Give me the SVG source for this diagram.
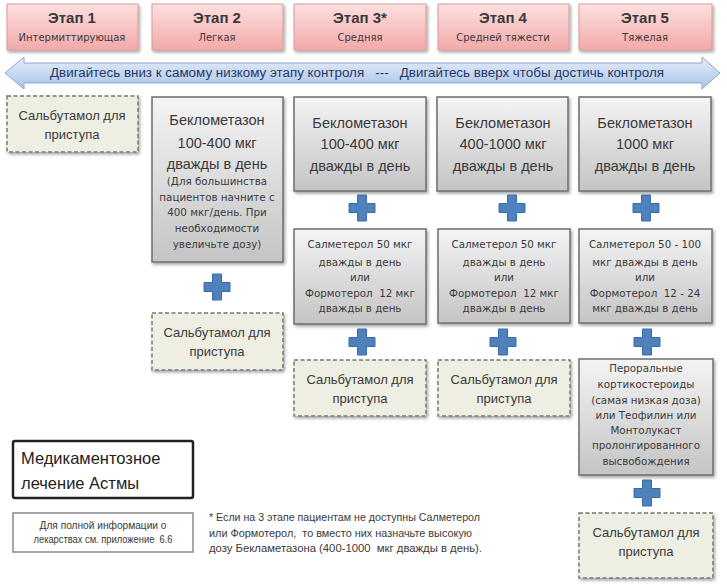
<svg xmlns="http://www.w3.org/2000/svg" width="727" height="585" viewBox="0 0 727 585">
<defs>
<linearGradient id="gPink" x1="0" y1="0" x2="0" y2="1"><stop offset="0" stop-color="#fde0e0"/><stop offset="1" stop-color="#f3a9a9"/></linearGradient>
<linearGradient id="gGray" x1="0" y1="0" x2="0" y2="1"><stop offset="0" stop-color="#f4f4f4"/><stop offset="1" stop-color="#c4c4c4"/></linearGradient>
<linearGradient id="gBlue" x1="0" y1="0" x2="0" y2="1"><stop offset="0" stop-color="#e6eefa"/><stop offset="1" stop-color="#a9c3e8"/></linearGradient>
<filter id="sh" x="-10%" y="-10%" width="125%" height="125%"><feDropShadow dx="1.5" dy="2" stdDeviation="1.5" flood-color="#000" flood-opacity="0.35"/></filter>
<path id="plus" d="M-4.5,-13 H4.5 V-4.5 H13 V4.5 H4.5 V13 H-4.5 V4.5 H-13 V-4.5 H-4.5 Z" fill="#4f81bd" stroke="#3a6aa3" stroke-width="1"/>
</defs>
<style>
text{font-family:"Liberation Sans",Arial,sans-serif;fill:#3a3a3a;text-anchor:middle;white-space:pre}
.hdr{fill:url(#gPink);stroke:#d99a9a;stroke-width:1;filter:url(#sh)}
.med{fill:url(#gGray);stroke:#6e6e6e;stroke-width:1.5;filter:url(#sh)}
.sal{fill:#efeee3;stroke:#777;stroke-width:1.5;stroke-dasharray:4 2.5;filter:url(#sh)}
.t1{font-size:15px;font-weight:bold}
.t2{font-family:"DejaVu Sans",sans-serif;font-size:10px}
.big{font-size:14.5px}
.sm{font-family:"DejaVu Sans",sans-serif;font-size:10.3px}
.sb{font-size:13px}
.ls{text-anchor:start}
</style>
<rect width="727" height="585" fill="#fff"/>
<g id="stage1-header"><rect class="hdr" x="7" y="4" width="131" height="46"/><text class="t1" x="72" y="23">Этап 1</text><text class="t2" x="72" y="41">Интермиттирующая</text></g>
<g id="stage2-header"><rect class="hdr" x="152" y="4" width="131" height="46"/><text class="t1" x="217" y="23">Этап 2</text><text class="t2" x="217" y="41">Легкая</text></g>
<g id="stage3-header"><rect class="hdr" x="294" y="4" width="132" height="46"/><text class="t1" x="360" y="23">Этап 3*</text><text class="t2" x="360" y="41">Средняя</text></g>
<g id="stage4-header"><rect class="hdr" x="438" y="4" width="131" height="46"/><text class="t1" x="503" y="23">Этап 4</text><text class="t2" x="503" y="41">Средней тяжести</text></g>
<g id="stage5-header"><rect class="hdr" x="579" y="4" width="133" height="46"/><text class="t1" x="645" y="23">Этап 5</text><text class="t2" x="645" y="41">Тяжелая</text></g>
<g id="connectors">
<path d="M5,73 L24,57 L24,63 L702,63 L702,57 L720,73 L702,89 L702,83 L24,83 L24,89 Z" fill="url(#gBlue)" stroke="#8aa7d4" stroke-width="1"/>
<text class="ls" x="50" y="77" font-size="12.5" textLength="614" lengthAdjust="spacingAndGlyphs" style="fill:#1f3864">Двигайтесь вниз к самому низкому этапу контроля   ---   Двигайтесь вверх чтобы достичь контроля</text>
</g>
<g id="stage1-salbutamol"><rect class="sal" x="7" y="96" width="131" height="56"/><text class="sb" x="72" y="120">Сальбутамол для</text><text class="sb" x="72" y="139">приступа</text></g>
<g id="stage2-beclomethasone"><rect class="med" x="152" y="97" width="131" height="165"/>
<text class="big" x="217" y="125">Беклометазон</text><text class="big" x="217" y="148">100-400 мкг</text><text class="big" x="217" y="169">дважды в день</text>
<text class="sm" x="217" y="185">(Для большинства</text><text class="sm" x="217" y="201">пациентов начните с</text><text class="sm" x="217" y="216">400 мкг/день. При</text><text class="sm" x="217" y="232">необходимости</text><text class="sm" x="217" y="248">увеличьте дозу)</text></g>
<g id="stage2-salbutamol"><rect class="sal" x="152" y="313" width="131" height="57"/><text class="sb" x="217" y="337">Сальбутамол для</text><text class="sb" x="217" y="356">приступа</text></g>
<g id="stage3-beclomethasone"><rect class="med" x="294" y="97" width="132" height="94"/><text class="big" x="360" y="128">Беклометазон</text><text class="big" x="360" y="149">100-400 мкг</text><text class="big" x="360" y="171">дважды в день</text></g>
<g id="stage4-beclomethasone"><rect class="med" x="437" y="97" width="131" height="94"/><text class="big" x="503" y="128">Беклометазон</text><text class="big" x="503" y="149">400-1000 мкг</text><text class="big" x="503" y="171">дважды в день</text></g>
<g id="stage5-beclomethasone"><rect class="med" x="579" y="97" width="132" height="94"/><text class="big" x="645" y="128">Беклометазон</text><text class="big" x="645" y="149">1000 мкг</text><text class="big" x="645" y="171">дважды в день</text></g>
<g id="stage3-laba"><rect class="med" x="294" y="229" width="132" height="95"/><text class="sm" x="360" y="248">Салметерол 50 мкг</text><text class="sm" x="360" y="266">дважды в день</text><text class="sm" x="360" y="281">или</text><text class="sm" x="360" y="297">Формотерол  12 мкг</text><text class="sm" x="360" y="312">дважды в день</text></g>
<g id="stage4-laba"><rect class="med" x="438" y="229" width="132" height="94"/><text class="sm" x="504" y="248">Салметерол 50 мкг</text><text class="sm" x="504" y="266">дважды в день</text><text class="sm" x="504" y="281">или</text><text class="sm" x="504" y="297">Формотерол  12 мкг</text><text class="sm" x="504" y="312">дважды в день</text></g>
<g id="stage5-laba"><rect class="med" x="579" y="229" width="133" height="94"/><text class="sm" x="645" y="248">Салметерол 50 - 100</text><text class="sm" x="645" y="266">мкг дважды в день</text><text class="sm" x="645" y="281">или</text><text class="sm" x="645" y="297">Формотерол  12 - 24</text><text class="sm" x="645" y="312">мкг дважды в день</text></g>
<g id="stage3-salbutamol"><rect class="sal" x="294" y="360" width="132" height="56"/><text class="sb" x="360" y="384">Сальбутамол для</text><text class="sb" x="360" y="403">приступа</text></g>
<g id="stage4-salbutamol"><rect class="sal" x="438" y="360" width="132" height="56"/><text class="sb" x="504" y="384">Сальбутамол для</text><text class="sb" x="504" y="403">приступа</text></g>
<g id="stage5-oral"><rect class="med" x="579" y="359" width="134" height="116"/>
<text class="sm" x="646" y="372">Пероральные</text><text class="sm" x="646" y="388">кортикостероиды</text><text class="sm" x="646" y="404">(самая низкая доза)</text><text class="sm" x="646" y="419">или Теофилин или</text><text class="sm" x="646" y="434">Монтолукаст</text><text class="sm" x="646" y="449">пролонгированного</text><text class="sm" x="646" y="465">высвобождения</text></g>
<g id="stage5-salbutamol"><rect class="sal" x="579" y="513" width="134" height="65"/><text class="sb" x="646" y="537">Сальбутамол для</text><text class="sb" x="646" y="556">приступа</text></g>
<g id="plus-signs">
<use href="#plus" x="217" y="287"/>
<use href="#plus" x="362" y="208"/><use href="#plus" x="362" y="342"/>
<use href="#plus" x="512" y="208"/><use href="#plus" x="503" y="342"/>
<use href="#plus" x="646" y="208"/><use href="#plus" x="647" y="342"/><use href="#plus" x="647" y="493"/>
</g>
<g id="title-box"><rect x="13" y="441" width="180" height="57" rx="2" fill="#fff" stroke="#222" stroke-width="2.5"/><text class="ls" x="21" y="464" font-size="16.5" style="fill:#222">Медикаментозное</text><text class="ls" x="21" y="489" font-size="16.5" style="fill:#222">лечение Астмы</text></g>
<g id="info-box"><rect x="13" y="513" width="180" height="39" fill="#fff" stroke="#8a8a8a" stroke-width="1.5"/><text x="103" y="529" font-size="10" textLength="127" lengthAdjust="spacingAndGlyphs">Для полной информации о</text><text x="103" y="543" font-size="10" textLength="139" lengthAdjust="spacingAndGlyphs">лекарствах см. приложение  6.6</text></g>
<g id="footnote"><text class="ls" x="209" y="521" font-size="10" textLength="271" lengthAdjust="spacingAndGlyphs">* Если на 3 этапе пациентам не доступны Салметерол</text><text class="ls" x="209" y="537" font-size="10" textLength="263" lengthAdjust="spacingAndGlyphs">или Формотерол,  то вместо них назначьте высокую</text><text class="ls" x="209" y="552" font-size="10" textLength="273" lengthAdjust="spacingAndGlyphs">дозу Бекламетазона (400-1000  мкг дважды в день).</text></g>
</svg>
